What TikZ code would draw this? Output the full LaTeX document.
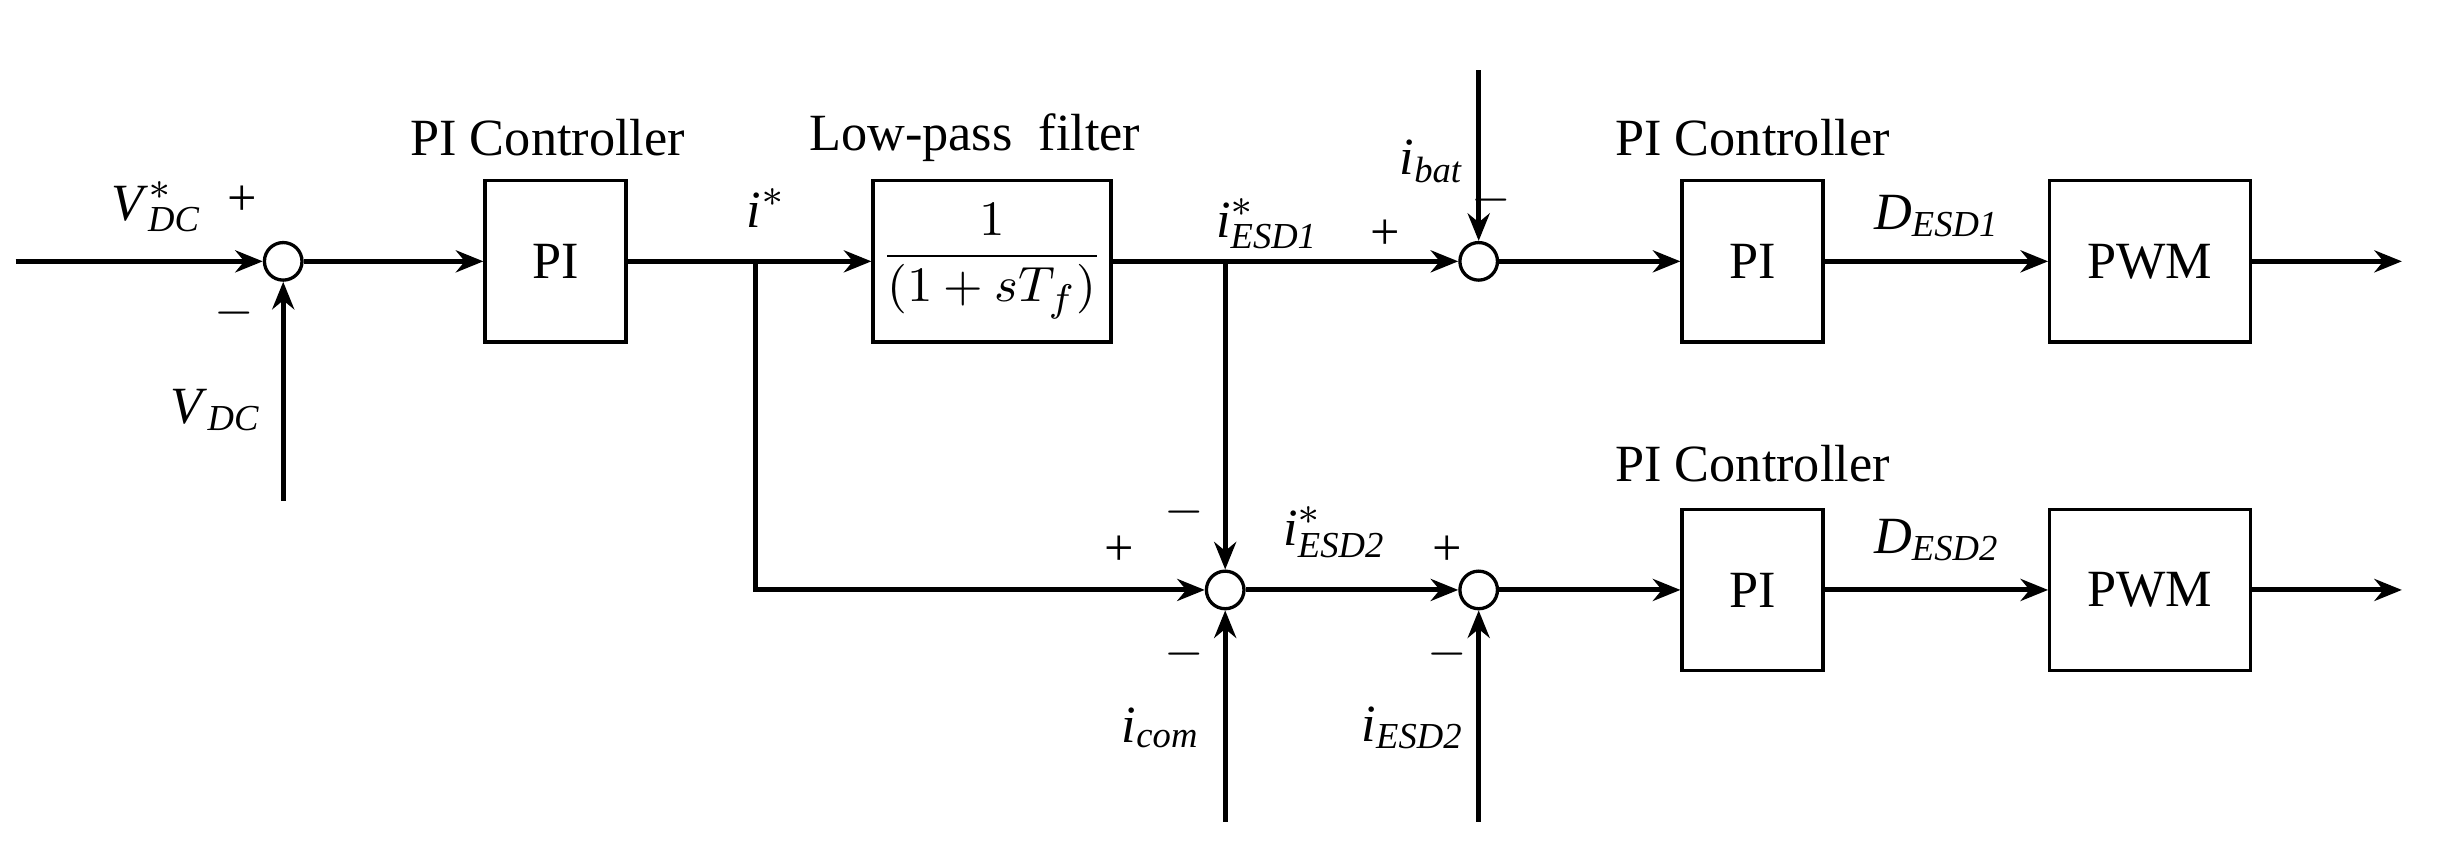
\documentclass[tikz,border=0pt]{standalone}
\usepackage{amsmath}
\usepackage{fontspec}
\setmainfont{Liberation Serif}
\usetikzlibrary{arrows.meta}
\begin{document}
\begin{tikzpicture}[x=0.01cm,y=-0.01cm,font=\fontsize{9.5}{11}\selectfont,
  line width=0.9pt,
  ar/.style={-{Stealth[length=5pt,width=4pt]}},
  blk/.style={draw,line width=0.6pt,minimum width=0.9cm,minimum height=1.03cm,inner sep=0pt},
  sum/.style={draw,circle,line width=0.6pt,minimum size=0.24cm,inner sep=0pt},
  lb/.style={inner sep=0pt}]
\useasboundingbox (0,0) rectangle (1560,553);
% nodes
\coordinate (in) at (10,167);
\node[sum] (s1) at (181,167) {};
\coordinate (vdc) at (181,320);
\node[blk] (pi1) at (355,167) {PI};
\node[blk,minimum width=1.52cm] (lpf) at (634,167) {$\dfrac{1}{(1+s T_f)}$};
\coordinate (b1) at (483,167);
\coordinate (b1d) at (483,377);
\node[sum] (s2) at (945,167) {};
\coordinate (ibat) at (945,45);
\coordinate (b2) at (783,167);
\node[blk] (pi2) at (1120,167) {PI};
\node[blk,minimum width=1.28cm] (pwm1) at (1374,167) {PWM};
\coordinate (o1) at (1535,167);
\node[sum] (s3) at (783,377) {};
\coordinate (icom) at (783,525);
\node[sum] (s4) at (945,377) {};
\coordinate (iesd) at (945,525);
\node[blk] (pi3) at (1120,377) {PI};
\node[blk,minimum width=1.28cm] (pwm2) at (1374,377) {PWM};
\coordinate (o2) at (1535,377);
% connectors
\draw[ar] (in) -- (s1);
\draw[ar] (vdc) -- (s1);
\draw[ar] (s1) -- (pi1);
\draw[ar] (pi1) -- (lpf);
\draw[ar] (b1) -- (b1d) -- (s3);
\draw[ar] (lpf) -- (s2);
\draw[ar] (b2) -- (s3);
\draw[ar] (ibat) -- (s2);
\draw[ar] (s2) -- (pi2);
\draw[ar] (pi2) -- (pwm1);
\draw[ar] (pwm1) -- (o1);
\draw[ar] (icom) -- (s3);
\draw[ar] (s3) -- (s4);
\draw[ar] (iesd) -- (s4);
\draw[ar] (s4) -- (pi3);
\draw[ar] (pi3) -- (pwm2);
\draw[ar] (pwm2) -- (o2);
% labels
\node[lb] (t1) at (100,132) {\textit{V}$^{*}_{\textit{DC}}$};
\node[lb] (t2) at (155,128) {+};
\node[lb] (t3) at (150,200) {$-$};
\node[lb] (t4) at (138,262) {\textit{V}$_{\textit{DC}}$};
\node[lb] (t5) at (350,88) {PI Controller};
\node[lb] (t6) at (490,133) {\textit{i}$^{*}$};
\node[lb] (t7) at (623,88) {Low-pass\ \ filter};
\node[lb] (t8) at (810,143) {\textit{i}$^{*}_{\textit{ESD1}}$};
\node[lb] (t9) at (885,150) {+};
\node[lb] (t10) at (915,103) {\textit{i}$_{\textit{bat}}$};
\node[lb] (t11) at (953,128) {$-$};
\node[lb] (t12) at (1120,88) {PI Controller};
\node[lb] (t13) at (1238,138) {\textit{D}$_{\textit{ESD1}}$};
\node[lb] (t14) at (1120,296) {PI Controller};
\node[lb] (t15) at (1238,345) {\textit{D}$_{\textit{ESD2}}$};
\node[lb] (t16) at (715,352) {+};
\node[lb] (t17) at (757,327) {$-$};
\node[lb] (t18) at (757,418) {$-$};
\node[lb] (t19) at (742,465) {\textit{i}$_{\textit{com}}$};
\node[lb] (t20) at (853,340) {\textit{i}$^{*}_{\textit{ESD2}}$};
\node[lb] (t21) at (925,352) {+};
\node[lb] (t22) at (925,418) {$-$};
\node[lb] (t23) at (903,465) {\textit{i}$_{\textit{ESD2}}$};
\end{tikzpicture}
\end{document}
